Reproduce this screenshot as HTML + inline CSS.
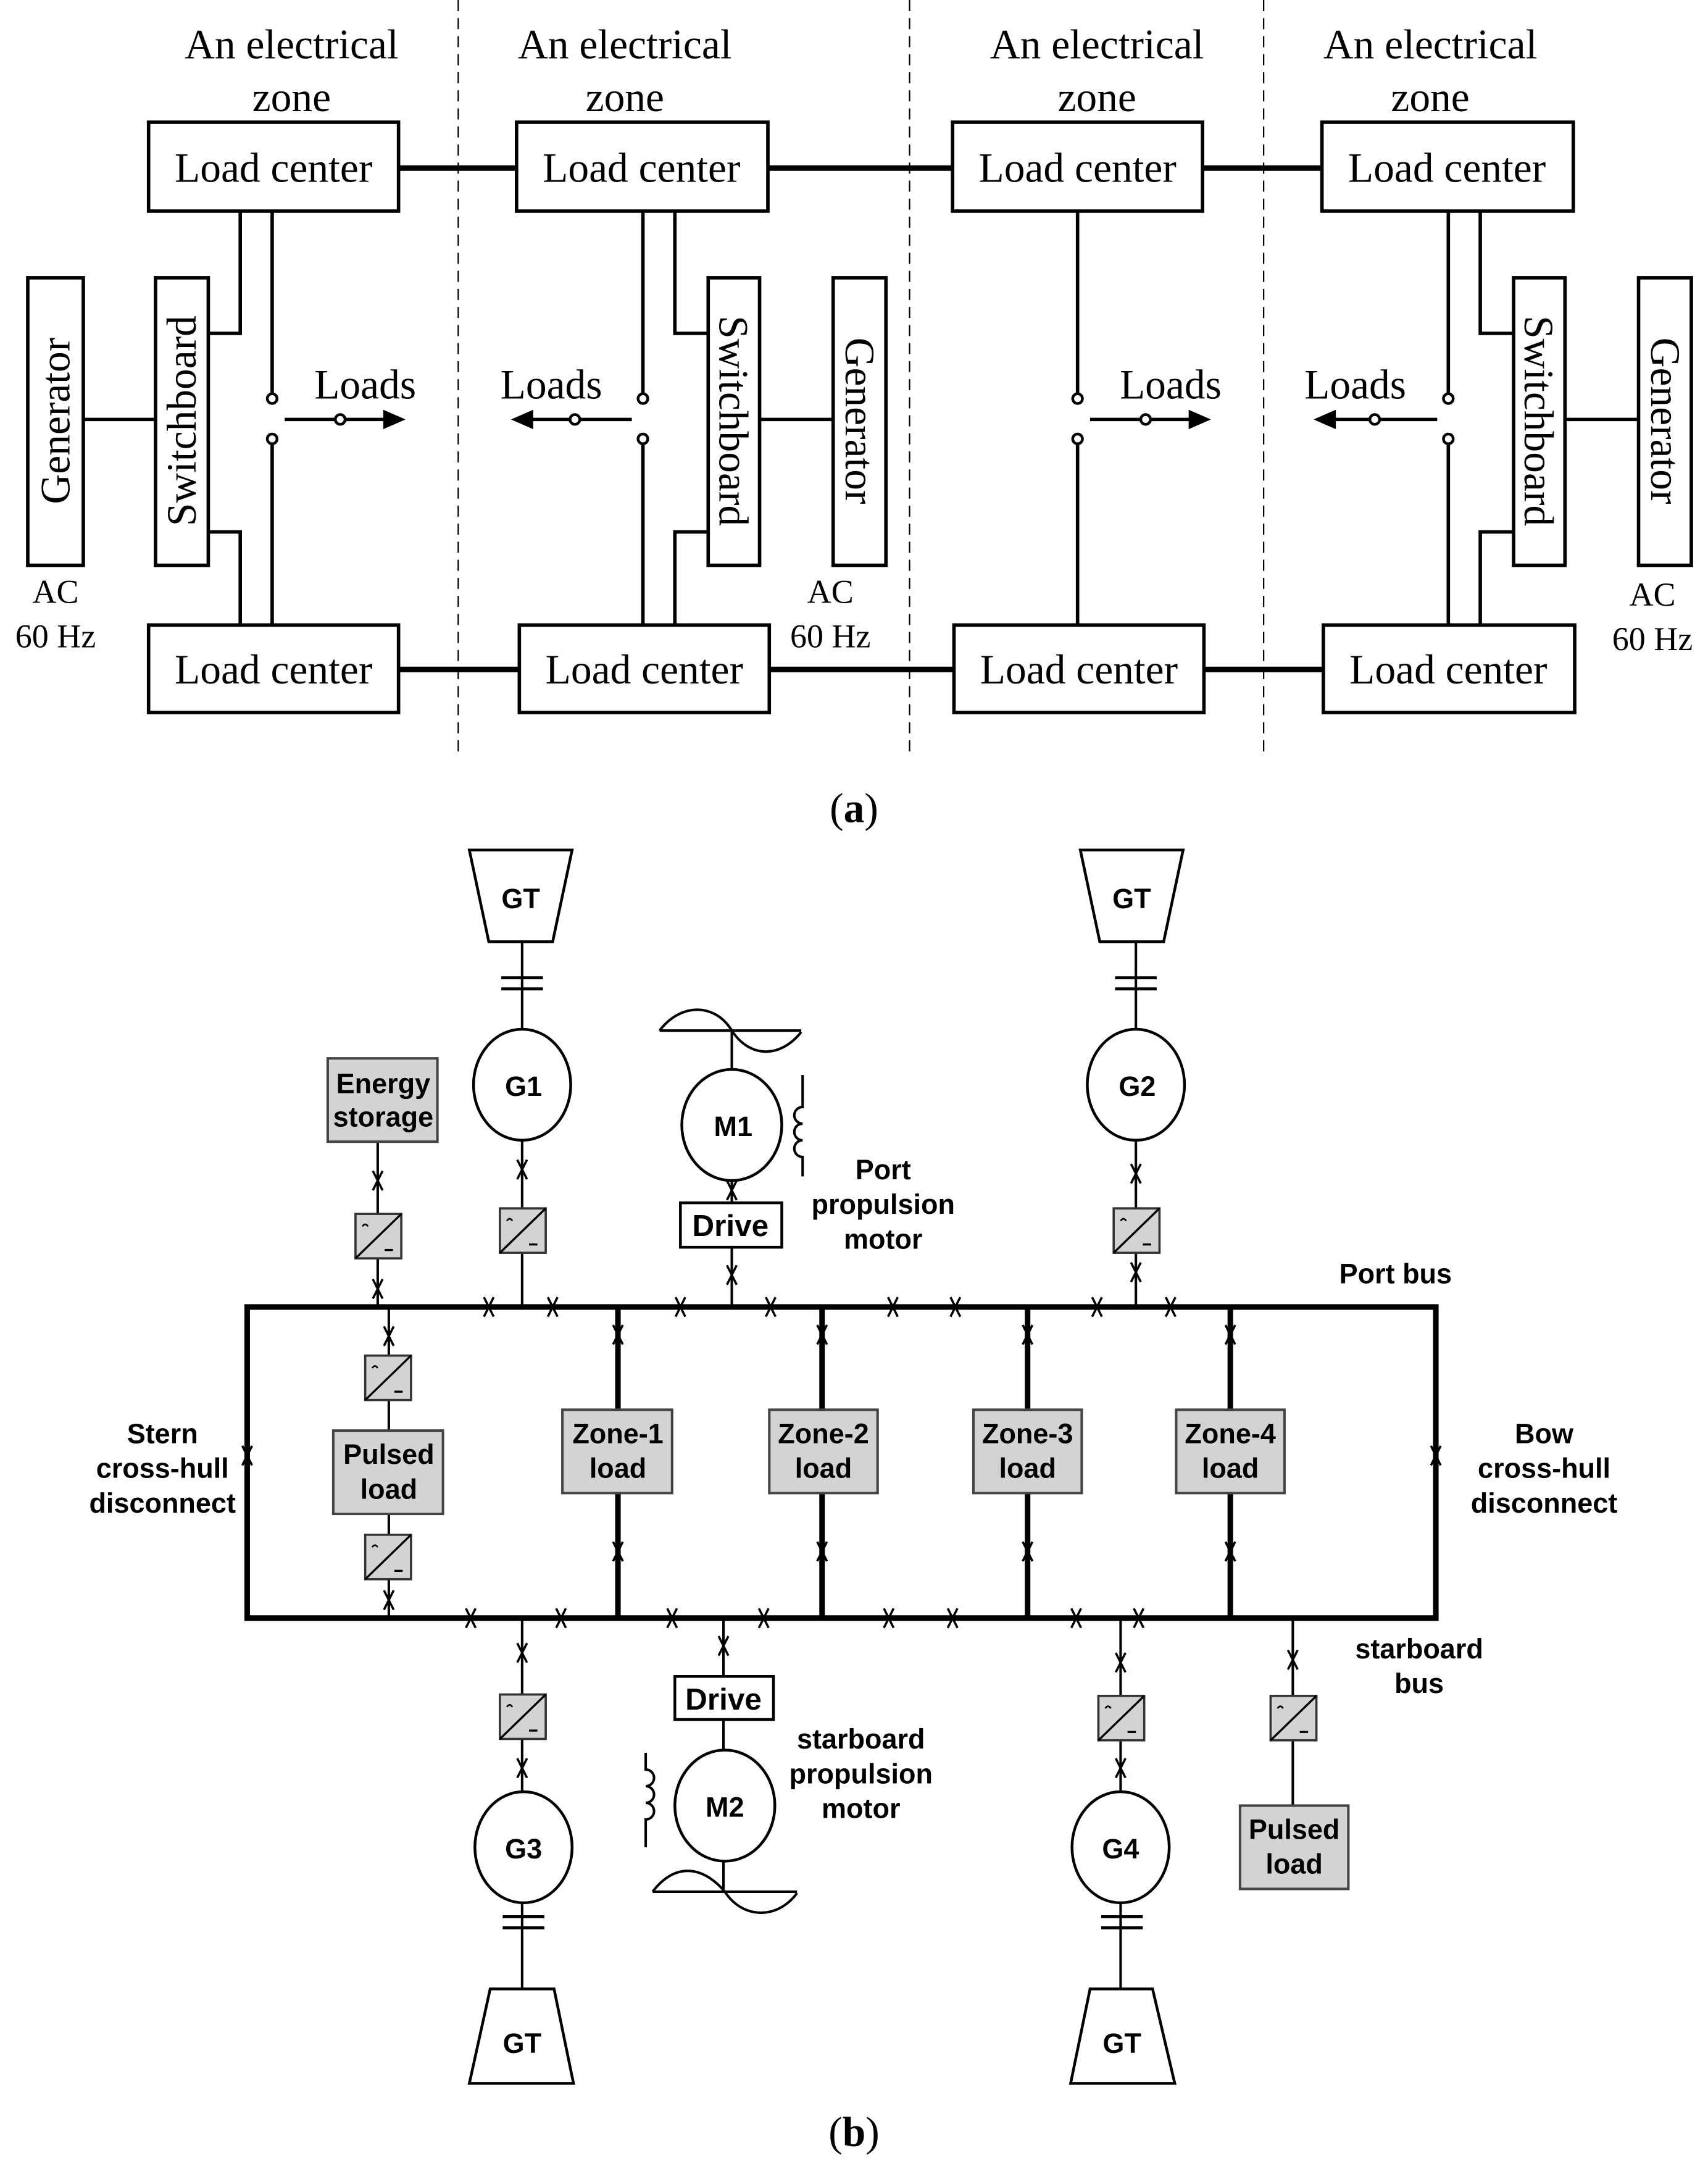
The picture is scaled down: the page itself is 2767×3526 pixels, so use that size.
<!DOCTYPE html>
<html><head><meta charset="utf-8"><style>html,body{margin:0;padding:0;background:#fff}svg{display:block}</style></head>
<body>
<svg width="2767" height="3526" viewBox="0 0 1230 1567.4" preserveAspectRatio="none" xmlns="http://www.w3.org/2000/svg">
<defs>
<g id="xm"><path d="M-3.5,-7 L3.5,7 M3.5,-7 L-3.5,7" stroke="#000" stroke-width="1.6" fill="none"/></g>
<g id="cv"><rect x="0" y="0" width="33" height="32" fill="#d3d3d3" stroke="#333" stroke-width="1.6"/><path d="M0,32 L33,0" stroke="#000" stroke-width="1.5"/><path d="M5,9 q2,-3 4,0" stroke="#000" stroke-width="1.2" fill="none"/><path d="M21,26 L27,26" stroke="#000" stroke-width="1.5"/></g>
</defs>
<g font-family="'Liberation Serif',serif" font-size="30" fill="#000" text-anchor="middle">
<text x="210" y="42">An electrical</text><text x="210" y="80">zone</text>
<text x="450" y="42">An electrical</text><text x="450" y="80">zone</text>
<text x="790" y="42">An electrical</text><text x="790" y="80">zone</text>
<text x="1030" y="42">An electrical</text><text x="1030" y="80">zone</text>
</g>
<g stroke="#000" stroke-width="1" stroke-dasharray="8,5"><path d="M330,0V545M655,0V545M910,0V545"/></g>
<g fill="#fff" stroke="#000" stroke-width="2.5">
<rect x="107" y="88" width="180" height="64"/><rect x="372" y="88" width="181" height="64"/><rect x="686" y="88" width="180" height="64"/><rect x="952" y="88" width="181" height="64"/>
<rect x="107" y="450" width="180" height="63"/><rect x="374" y="450" width="180" height="63"/><rect x="687" y="450" width="180" height="63"/><rect x="953" y="450" width="181" height="63"/>
<rect x="20" y="200" width="40" height="207"/><rect x="112" y="200" width="38" height="207"/>
<rect x="510" y="200" width="37" height="207"/><rect x="600" y="200" width="38" height="207"/>
<rect x="1090" y="200" width="37" height="207"/><rect x="1180" y="200" width="38" height="207"/>
</g>
<g font-family="'Liberation Serif',serif" font-size="30" text-anchor="middle">
<text x="197" y="131">Load center</text><text x="462" y="131">Load center</text><text x="776" y="131">Load center</text><text x="1042" y="131">Load center</text>
<text x="197" y="492">Load center</text><text x="464" y="492">Load center</text><text x="777" y="492">Load center</text><text x="1043" y="492">Load center</text>
<text transform="translate(50,303) rotate(-90)">Generator</text>
<text transform="translate(141,303) rotate(-90)">Switchboard</text>
<text transform="translate(518,303) rotate(90)">Switchboard</text>
<text transform="translate(609,303) rotate(90)">Generator</text>
<text transform="translate(1098,303) rotate(90)">Switchboard</text>
<text transform="translate(1189,303) rotate(90)">Generator</text>
<text x="263" y="287">Loads</text><text x="397" y="287">Loads</text><text x="843" y="287">Loads</text><text x="976" y="287">Loads</text>
<g font-size="24"><text x="40" y="434">AC</text><text x="40" y="466">60 Hz</text>
<text x="598" y="434">AC</text><text x="598" y="466">60 Hz</text>
<text x="1190" y="436">AC</text><text x="1190" y="468">60 Hz</text></g>
<text x="615" y="592">(<tspan font-weight="bold">a</tspan>)</text>
<text x="615" y="1545">(<tspan font-weight="bold">b</tspan>)</text>
</g>
<g stroke="#000" stroke-width="4" fill="none"><path d="M287,121H372M553,121H686M866,121H952M287,482H374M554,482H687M867,482H953"/></g>
<g stroke="#000" stroke-width="2.5" fill="none">
<path d="M60,302H112M150,240H173V152M196,152V284M196,319V450M150,383H173V450"/>
<path d="M547,302H600M510,240H486V152M463,152V284M463,319V450M510,383H486V450"/>
<path d="M776,152V284M776,319V450"/>
<path d="M1127,302H1180M1090,240H1066V152M1043,152V284M1043,319V450M1090,383H1066V450"/>
<path d="M205,302H280M455,302H380M785,302H860M1035,302H958"/>
</g>
<g fill="#000" stroke="none">
<path d="M292,302L276,295L276,309Z"/><path d="M368,302L384,295L384,309Z"/><path d="M872,302L856,295L856,309Z"/><path d="M946,302L962,295L962,309Z"/>
</g>
<g fill="#fff" stroke="#000" stroke-width="2">
<circle cx="196" cy="287" r="3.5"/><circle cx="196" cy="316" r="3.5"/><circle cx="245" cy="302" r="3.5"/>
<circle cx="463" cy="287" r="3.5"/><circle cx="463" cy="316" r="3.5"/><circle cx="414" cy="302" r="3.5"/>
<circle cx="776" cy="287" r="3.5"/><circle cx="776" cy="316" r="3.5"/><circle cx="825" cy="302" r="3.5"/>
<circle cx="1043" cy="287" r="3.5"/><circle cx="1043" cy="316" r="3.5"/><circle cx="990" cy="302" r="3.5"/>
</g>

<!-- part b -->
<g stroke="#000" fill="none">
<path stroke-width="4" d="M178,941H1034V1165H178Z M445,941V1165M592,941V1165M740,941V1165M886,941V1165"/>
<path stroke-width="1.8" d="M376,678V763M376,820V941 M272,822V941 M280,941V1165 M527,742V770M527,850V941 M818,678V763M818,820V941 M376,1165V1294M376,1367V1432 M521,1165V1262 M521,1340V1360 M807,1165V1294M807,1367V1432 M931,1165V1300"/>
<path stroke-width="2.2" d="M361,704H391M361,712H391 M803,704H833M803,712H833 M362,1380H392M362,1388H392 M793,1380H823M793,1388H823"/>
</g>
<g fill="#fff" stroke="#000" stroke-width="2">
<path d="M338,612H412L398,678H352Z"/><path d="M778,612H852L838,678H792Z"/>
<path d="M353,1432H399L413,1500H338Z"/><path d="M785,1432H830L846,1500H771Z"/>
<ellipse cx="376" cy="781" rx="35" ry="40"/><ellipse cx="818" cy="781" rx="35" ry="40"/>
<ellipse cx="527" cy="810" rx="36" ry="40"/><ellipse cx="522" cy="1300" rx="36" ry="40"/>
<ellipse cx="377" cy="1330" rx="35" ry="40"/><ellipse cx="807" cy="1330" rx="35" ry="40"/>
<rect x="490" y="866" width="73" height="32"/><rect x="486" y="1207" width="71" height="31"/>
</g>
<g fill="#d3d3d3" stroke="#444" stroke-width="1.8">
<rect x="236" y="762" width="79" height="60"/><rect x="240" y="1030" width="79" height="60"/>
<rect x="405" y="1015" width="79" height="60"/><rect x="554" y="1015" width="78" height="60"/>
<rect x="701" y="1015" width="78" height="60"/><rect x="847" y="1015" width="78" height="60"/>
<rect x="893" y="1300" width="78" height="60"/>
</g>
<g stroke="#000" stroke-width="1.8" fill="none">
<path d="M475,742L577,742 M475,742C490,722 515,722 527,742C540,762 562,762 577,743"/>
<path d="M470,1362L574,1362 M470,1362C485,1342 505,1342 522,1362C535,1382 560,1382 574,1363"/>
<path d="M578,774V797a6,6 0 0 0 0,12a6,6 0 0 0 0,12a6,6 0 0 0 0,12V847"/>
<path d="M465,1262V1274a6,6 0 0 1 0,12a6,6 0 0 1 0,12a6,6 0 0 1 0,12V1330"/>
</g>
<use href="#cv" x="360" y="870"/><use href="#cv" x="256" y="874"/><use href="#cv" x="802" y="870"/>
<use href="#cv" x="263" y="976"/><use href="#cv" x="263" y="1105"/>
<use href="#cv" x="360" y="1220"/><use href="#cv" x="791" y="1221"/><use href="#cv" x="915" y="1221"/>
<g>
<use href="#xm" x="352" y="941"/><use href="#xm" x="398" y="941"/><use href="#xm" x="490" y="941"/><use href="#xm" x="555" y="941"/><use href="#xm" x="643" y="941"/><use href="#xm" x="688" y="941"/><use href="#xm" x="790" y="941"/><use href="#xm" x="843" y="941"/>
<use href="#xm" x="339" y="1165"/><use href="#xm" x="404" y="1165"/><use href="#xm" x="484" y="1165"/><use href="#xm" x="550" y="1165"/><use href="#xm" x="640" y="1165"/><use href="#xm" x="686" y="1165"/><use href="#xm" x="775" y="1165"/><use href="#xm" x="820" y="1165"/>
<use href="#xm" x="445" y="961"/><use href="#xm" x="592" y="961"/><use href="#xm" x="740" y="961"/><use href="#xm" x="886" y="961"/>
<use href="#xm" x="445" y="1117"/><use href="#xm" x="592" y="1117"/><use href="#xm" x="740" y="1117"/><use href="#xm" x="886" y="1117"/>
<use href="#xm" x="178" y="1048"/><use href="#xm" x="1034" y="1048"/>
<use href="#xm" x="376" y="842"/><use href="#xm" x="272" y="850"/><use href="#xm" x="272" y="928"/><use href="#xm" x="280" y="962"/><use href="#xm" x="280" y="1152"/>
<use href="#xm" x="527" y="857"/><use href="#xm" x="527" y="918"/><use href="#xm" x="818" y="845"/><use href="#xm" x="818" y="916"/>
<use href="#xm" x="376" y="1190"/><use href="#xm" x="376" y="1273"/><use href="#xm" x="521" y="1185"/><use href="#xm" x="807" y="1197"/><use href="#xm" x="807" y="1273"/><use href="#xm" x="931" y="1195"/>
</g>
<g font-family="'Liberation Sans',sans-serif" font-weight="bold" font-size="20" text-anchor="middle" fill="#000">
<text x="375" y="654">GT</text><text x="815" y="654">GT</text><text x="376" y="1478">GT</text><text x="808" y="1478">GT</text>
<text x="377" y="789">G1</text><text x="819" y="789">G2</text><text x="528" y="818">M1</text><text x="522" y="1308">M2</text><text x="377" y="1338">G3</text><text x="807" y="1338">G4</text>
<text x="526" y="890" font-size="22">Drive</text><text x="521" y="1231" font-size="22">Drive</text>
<text x="276" y="787">Energy</text><text x="276" y="811">storage</text>
<text x="280" y="1054">Pulsed</text><text x="280" y="1079">load</text>
<text x="932" y="1324">Pulsed</text><text x="932" y="1349">load</text>
<text x="445" y="1039">Zone-1</text><text x="445" y="1064">load</text>
<text x="593" y="1039">Zone-2</text><text x="593" y="1064">load</text>
<text x="740" y="1039">Zone-3</text><text x="740" y="1064">load</text>
<text x="886" y="1039">Zone-4</text><text x="886" y="1064">load</text>
<text x="636" y="849">Port</text><text x="636" y="874">propulsion</text><text x="636" y="899">motor</text>
<text x="620" y="1259">starboard</text><text x="620" y="1284">propulsion</text><text x="620" y="1309">motor</text>
<text x="1005" y="924">Port bus</text>
<text x="1022" y="1194">starboard</text><text x="1022" y="1219">bus</text>
<text x="117" y="1039">Stern</text><text x="117" y="1064">cross-hull</text><text x="117" y="1089">disconnect</text>
<text x="1112" y="1039">Bow</text><text x="1112" y="1064">cross-hull</text><text x="1112" y="1089">disconnect</text>
</g>
</svg>
</body></html>
